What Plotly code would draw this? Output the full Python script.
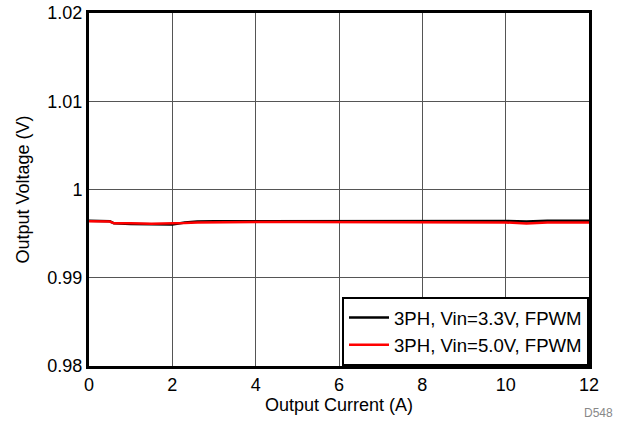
import plotly.graph_objects as go

current = [0, 0.3, 0.5, 0.6, 0.8, 1.0, 1.5, 2.0, 2.3, 2.6, 3.0, 4.0, 5.0, 6.0, 7.0, 7.5, 8.0, 9.0, 10.0, 10.5, 11.0, 12.0]
v_33 = [0.99645, 0.99643, 0.99640, 0.99617, 0.99617, 0.99610, 0.99606, 0.99604, 0.99625, 0.99638, 0.99640, 0.99641, 0.99642, 0.99643, 0.99645, 0.99647, 0.99645, 0.99644, 0.99643, 0.99638, 0.99645, 0.99645]
v_50 = [0.99640, 0.99638, 0.99636, 0.99617, 0.99620, 0.99617, 0.99612, 0.99612, 0.99620, 0.99627, 0.99630, 0.99631, 0.99631, 0.99630, 0.99629, 0.99628, 0.99628, 0.99628, 0.99626, 0.99616, 0.99626, 0.99627]

x_ticks = [0, 2, 4, 6, 8, 10, 12]
y_ticks = [0.98, 0.99, 1.0, 1.01, 1.02]
y_labels = ["0.98", "0.99", "1", "1.01", "1.02"]

FS = 18

fig = go.Figure()
fig.add_trace(go.Scatter(x=current, y=v_33, mode="lines", name="3PH, Vin=3.3V, FPWM",
                         line=dict(color="black", width=2.5)))
fig.add_trace(go.Scatter(x=current, y=v_50, mode="lines", name="3PH, Vin=5.0V, FPWM",
                         line=dict(color="#ff0000", width=2.5)))

axis_common = dict(showline=True, linecolor="black", linewidth=3, mirror=True,
                   showgrid=True, gridcolor="#555555", gridwidth=1, zeroline=False,
                   ticks="", tickfont=dict(size=FS, color="black"), automargin=False)
fig.update_xaxes(range=[0, 12], tickvals=x_ticks,
                 title=dict(text="Output Current (A)", font=dict(size=FS, color="black"), standoff=4),
                 **axis_common)
fig.update_yaxes(range=[0.98, 1.02], tickvals=y_ticks, ticktext=y_labels,
                 title=dict(text="Output Voltage (V)", font=dict(size=FS, color="black"), standoff=14),
                 **axis_common)

fig.update_layout(
    width=625, height=424,
    margin=dict(l=89, r=36, t=13, b=58, autoexpand=False),
    paper_bgcolor="white", plot_bgcolor="white",
    font=dict(family="Liberation Sans, Arial, sans-serif", size=FS, color="black"),
    legend=dict(x=1, y=0, xanchor="right", yanchor="bottom",
                bordercolor="black", borderwidth=2, bgcolor="white",
                font=dict(size=18.6, color="black"), tracegroupgap=0,
                itemwidth=40),
    annotations=[dict(text="D548", xref="paper", yref="paper", x=1.052, y=-0.133,
                      xanchor="right", yanchor="middle", showarrow=False,
                      font=dict(size=12, color="#888888"))],
)

fig.write_html("out.html", config={"displayModeBar": False},
               post_script="document.body.style.margin='0';")
